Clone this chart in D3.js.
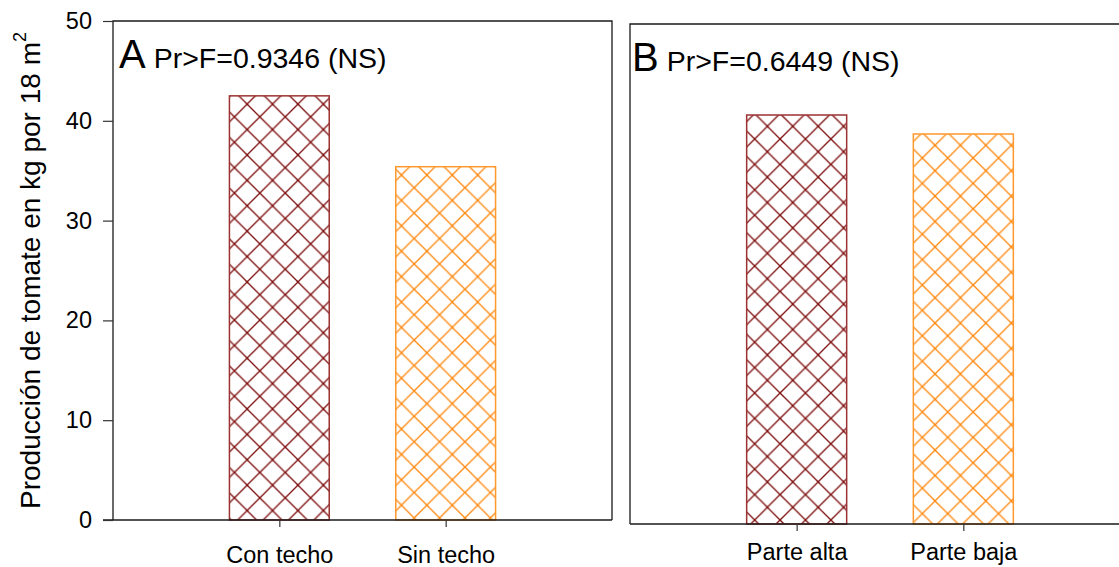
<!DOCTYPE html>
<html>
<head>
<meta charset="utf-8">
<script src="https://cdn.jsdelivr.net/npm/d3@7"></script>
<style>
  html, body { margin: 0; padding: 0; background: #fff; }
  svg { display: block; font-family: "Liberation Sans", Arial, sans-serif; }
</style>
</head>
<body>
<svg id="chart" width="1119" height="567"></svg>
<script>
// ---- data ----
const categoriesA = ["Con techo", "Sin techo"];
const valuesA = [42.5, 35.4];
const categoriesB = ["Parte alta", "Parte baja"];
const valuesB = [40.9, 39.0];
const yTickValues = [0, 10, 20, 30, 40, 50];
const yDomain = [0, 50];
const panelLetters = ["A", "B"];
const panelStats = ["Pr>F=0.9346 (NS)", "Pr>F=0.6449 (NS)"];
const yLabelMain = "Producción de tomate en kg por 18 m";
const yLabelSup = "2";

// ---- styles ----
const hatchColors = ["#7f1010", "#ff8a12"];
const outlineColors = ["#9c3232", "#ff982e"];
const frameColor = "#1a1a1a";
const font = "'Liberation Sans', Arial, sans-serif";

const svg = d3.select("#chart");
const defs = svg.append("defs");

const panels = [
  { id: "A", cats: categoriesA, vals: valuesA, left: 113, top: 21, width: 499, height: 499, yAxis: true, phases: [19, 7], labelPad: 19 },
  { id: "B", cats: categoriesB, vals: valuesB, left: 630, top: 24, width: 500, height: 500, yAxis: false, phases: [13, 14], labelPad: 12 }
];

const period = 25.4;

panels.forEach((p, pi) => {
  const g = svg.append("g").attr("transform", `translate(${p.left},${p.top})`);
  const x = d3.scalePoint().domain(p.cats).range([0, p.width]).padding(1);
  const y = d3.scaleLinear().domain(yDomain).range([p.height, 0]);
  const barW = p.width * 0.2;

  // patterns
  p.cats.forEach((c, i) => {
    const bx = p.left + x(c) - barW / 2;
    const by = p.top + y(p.vals[i]);
    const pat = defs.append("pattern")
      .attr("id", `hatch-${p.id}-${i}`)
      .attr("patternUnits", "userSpaceOnUse")
      .attr("x", bx + p.phases[i] - period / 2)
      .attr("y", by - period / 2)
      .attr("width", period)
      .attr("height", period);
    pat.append("rect").attr("width", period).attr("height", period).attr("fill", "#fff");
    const col = hatchColors[i];
    [[0, 0, period, period], [0, period, period, 0],
     [-1, -1, 1, 1], [period - 1, period - 1, period + 1, period + 1],
     [-1, 1, 1, -1], [period - 1, period + 1, period + 1, period - 1]].forEach(l => {
      pat.append("line").attr("x1", l[0]).attr("y1", l[1]).attr("x2", l[2]).attr("y2", l[3])
        .attr("stroke", col).attr("stroke-width", 1.3);
    });
  });

  // bars
  g.selectAll("rect.bar").data(p.cats).enter().append("rect")
    .attr("class", "bar")
    .attr("x", c => x(c) - barW / 2)
    .attr("y", (c, i) => y(p.vals[i]))
    .attr("width", barW)
    .attr("height", (c, i) => p.height - y(p.vals[i]))
    .attr("fill", (c, i) => `url(#hatch-${p.id}-${i})`)
    .attr("stroke", (c, i) => outlineColors[i])
    .attr("stroke-width", 1.5);

  // frame (top, right, left)
  g.append("path")
    .attr("d", `M0,${p.height}V0H${p.width}V${p.height}`)
    .attr("fill", "none").attr("stroke", frameColor).attr("stroke-width", 1.3);

  // x axis
  const xAxis = g.append("g").attr("transform", `translate(0,${p.height})`)
    .call(d3.axisBottom(x).tickSize(7).tickPadding(p.labelPad).tickSizeOuter(0));
  xAxis.select(".domain").attr("stroke", frameColor).attr("stroke-width", 1.3)
    .attr("d", `M${p.yAxis ? -10 : 0},0H${p.width}`);
  xAxis.selectAll(".tick line").attr("stroke", "#333").attr("stroke-width", 1.2);
  xAxis.selectAll(".tick text").attr("font-family", font).attr("font-size", 23.5).attr("fill", "#000")
    .attr("dy", "0.71em");

  // y axis
  if (p.yAxis) {
    const yAxis = g.append("g")
      .call(d3.axisLeft(y).tickValues(yTickValues).tickSize(10).tickPadding(11).tickSizeOuter(0));
    yAxis.select(".domain").remove();
    yAxis.selectAll(".tick line").attr("stroke", "#333").attr("stroke-width", 1.2);
    yAxis.selectAll(".tick text").attr("font-family", font).attr("font-size", 23.5).attr("fill", "#000");
  }

  // panel annotations
  const ann = g.append("text").attr("x", p.yAxis ? 6 : 2).attr("y", 47)
    .attr("font-family", font).attr("fill", "#000");
  ann.append("tspan").attr("font-size", 40).text(panelLetters[pi]);
  ann.append("tspan").attr("font-size", 28.5).attr("dx", 8).text(panelStats[pi]);
});

// y label
const yl = svg.append("text")
  .attr("transform", `translate(40,${21 + 499 / 2}) rotate(-90)`)
  .attr("text-anchor", "middle")
  .attr("font-family", font).attr("font-size", 28).attr("fill", "#000");
yl.append("tspan").text(yLabelMain);
yl.append("tspan").attr("font-size", 18).attr("dy", -14).text(yLabelSup);
</script>
</body>
</html>
